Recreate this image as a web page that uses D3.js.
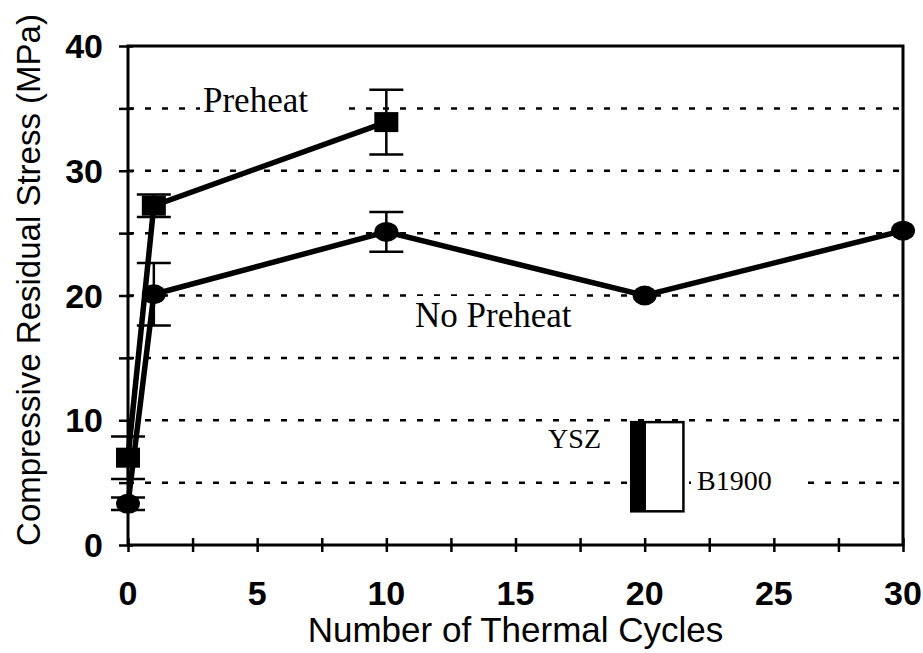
<!DOCTYPE html>
<html>
<head>
<meta charset="utf-8">
<script src="https://cdn.jsdelivr.net/npm/d3@7"></script>
<style>
  body { margin: 0; background: #fff; }
  .tick-label { font-family: "Liberation Sans", Arial, sans-serif; font-size: 34px; font-weight: bold; }
  .unit { font-family: "Liberation Sans", Arial, sans-serif; font-size: 35px; }
  .note { font-family: "Liberation Serif", "Times New Roman", serif; }
</style>
</head>
<body>
<div id="svg-container"></div>
<script>
// data
const preheatX = [0, 1, 10];
const preheatY = [7.0, 27.2, 33.9];
const preheatErr = [1.7, 0.9, 2.6];
const noPreheatX = [0, 1, 10, 20, 30];
const noPreheatY = [3.3, 20.1, 25.1, 20.0, 25.2];
const noPreheatErr = [0.5, 2.5, 1.6, 0, 0];
const xTicks = [0, 5, 10, 15, 20, 25, 30];
const yTicks = [0, 10, 20, 30, 40];
const gridValues = [5, 10, 15, 20, 25, 30, 35];

const width = 923;
const height = 653;
const margin = { top: 46, right: 20, bottom: 108, left: 128 };

const svg = d3.select("#svg-container").append("svg")
  .attr("width", width).attr("height", height);

// scale
const xScale = d3.scaleLinear().domain([0, 30]).range([margin.left, width - margin.right]);
const yScale = d3.scaleLinear().domain([0, 40]).range([height - margin.bottom, margin.top]);

// grid
svg.selectAll(".grid").data(gridValues).enter().append("line")
  .attr("x1", xScale(0)).attr("x2", xScale(30))
  .attr("y1", d => yScale(d)).attr("y2", d => yScale(d))
  .attr("stroke", "#000").attr("stroke-width", 2.5)
  .attr("stroke-dasharray", "6,11");

// labels (white boxes hide the grid behind them)
function note(text, x, y, size, anchor, padL, padR, weight) {
  const t = svg.append("text").attr("class", "note")
    .attr("x", x).attr("y", y)
    .attr("text-anchor", anchor)
    .style("font-size", size + "px")
    .style("font-weight", weight || "normal")
    .text(text);
  const b = t.node().getBBox();
  svg.insert("rect", () => t.node())
    .attr("x", b.x - padL).attr("y", b.y)
    .attr("width", b.width + padL + padR).attr("height", b.height)
    .attr("fill", "#fff");
}
note("Preheat", 203, 112, 35, "start", 3, 34);
note("No Preheat", 415, 327, 35, "start", 8, 4);
note("YSZ", 601, 448, 28, "end", 4, 4);
note("B1900", 697, 490, 28, "start", 6, 26);

// frame
svg.append("rect")
  .attr("x", xScale(0)).attr("y", yScale(40))
  .attr("width", xScale(30) - xScale(0)).attr("height", yScale(0) - yScale(40))
  .attr("fill", "none").attr("stroke", "#000").attr("stroke-width", 3);

// axes
const xAxis = d3.axisBottom(xScale).tickValues(d3.range(0, 30.1, 2.5))
  .tickSize(0).tickFormat("");
const yAxis = d3.axisLeft(yScale).tickValues(d3.range(0, 40.1, 5))
  .tickSize(0).tickFormat("");

const gx = svg.append("g").attr("transform", `translate(0,${yScale(0)})`).call(xAxis);
gx.select(".domain").remove();
gx.selectAll(".tick line").attr("y1", -7).attr("y2", 7)
  .attr("stroke", "#000").attr("stroke-width", 2.5);

const gy = svg.append("g").attr("transform", `translate(${xScale(0)},0)`).call(yAxis);
gy.select(".domain").remove();
gy.selectAll(".tick line").attr("x1", -9).attr("x2", 5)
  .attr("stroke", "#000").attr("stroke-width", 2.5);

svg.selectAll(".xlab").data(xTicks).enter().append("text")
  .attr("class", "tick-label")
  .attr("x", d => xScale(d)).attr("y", yScale(0) + 60)
  .attr("text-anchor", "middle").text(d => d);

svg.selectAll(".ylab").data(yTicks).enter().append("text")
  .attr("class", "tick-label")
  .attr("x", xScale(0) - 25).attr("y", d => yScale(d) + 12)
  .attr("text-anchor", "end").text(d => d);

// Units
svg.append("text").attr("class", "unit")
  .attr("x", (xScale(0) + xScale(30)) / 2).attr("y", 642)
  .attr("text-anchor", "middle").text("Number of Thermal Cycles");

svg.append("text").attr("class", "unit")
  .style("font-size", "33px")
  .attr("transform", "translate(40,280) rotate(-90)")
  .attr("text-anchor", "middle").text("Compressive Residual Stress (MPa)");

// series
const line = d3.line().x(d => xScale(d[0])).y(d => yScale(d[1]));
const preheat = preheatX.map((x, i) => [x, preheatY[i], preheatErr[i]]);
const noPreheat = noPreheatX.map((x, i) => [x, noPreheatY[i], noPreheatErr[i]]);

function errorBars(data) {
  const g = svg.append("g").attr("stroke", "#000").attr("stroke-width", 2.5);
  data.filter(d => d[2] > 0).forEach(d => {
    const cx = xScale(d[0]);
    g.append("line").attr("x1", cx).attr("x2", cx)
      .attr("y1", yScale(d[1] - d[2])).attr("y2", yScale(d[1] + d[2]));
    [d[1] - d[2], d[1] + d[2]].forEach(v => {
      g.append("line").attr("x1", cx - 17).attr("x2", cx + 17)
        .attr("y1", yScale(v)).attr("y2", yScale(v));
    });
  });
}

errorBars(noPreheat);
errorBars(preheat);

svg.append("path").datum(noPreheat).attr("d", line)
  .attr("fill", "none").attr("stroke", "#000").attr("stroke-width", 5.5);
svg.append("path").datum(preheat).attr("d", line)
  .attr("fill", "none").attr("stroke", "#000").attr("stroke-width", 5.5);

svg.selectAll(".circ").data(noPreheat).enter().append("ellipse")
  .attr("cx", d => xScale(d[0])).attr("cy", d => yScale(d[1]))
  .attr("rx", 12).attr("ry", 10).attr("fill", "#000");

svg.selectAll(".sq").data(preheat).enter().append("rect")
  .attr("x", d => xScale(d[0]) - 12).attr("y", d => yScale(d[1]) - 10)
  .attr("width", 24).attr("height", 20).attr("fill", "#000");

// inset sketch
svg.append("rect").attr("x", xScale(19.48)).attr("y", yScale(9.85))
  .attr("width", xScale(21.5) - xScale(19.48)).attr("height", yScale(2.7) - yScale(9.85))
  .attr("fill", "#fff").attr("stroke", "#000").attr("stroke-width", 2.5);
svg.append("rect").attr("x", xScale(19.48)).attr("y", yScale(9.85))
  .attr("width", xScale(20.05) - xScale(19.48)).attr("height", yScale(2.7) - yScale(9.85))
  .attr("fill", "#000");
</script>
</body>
</html>
